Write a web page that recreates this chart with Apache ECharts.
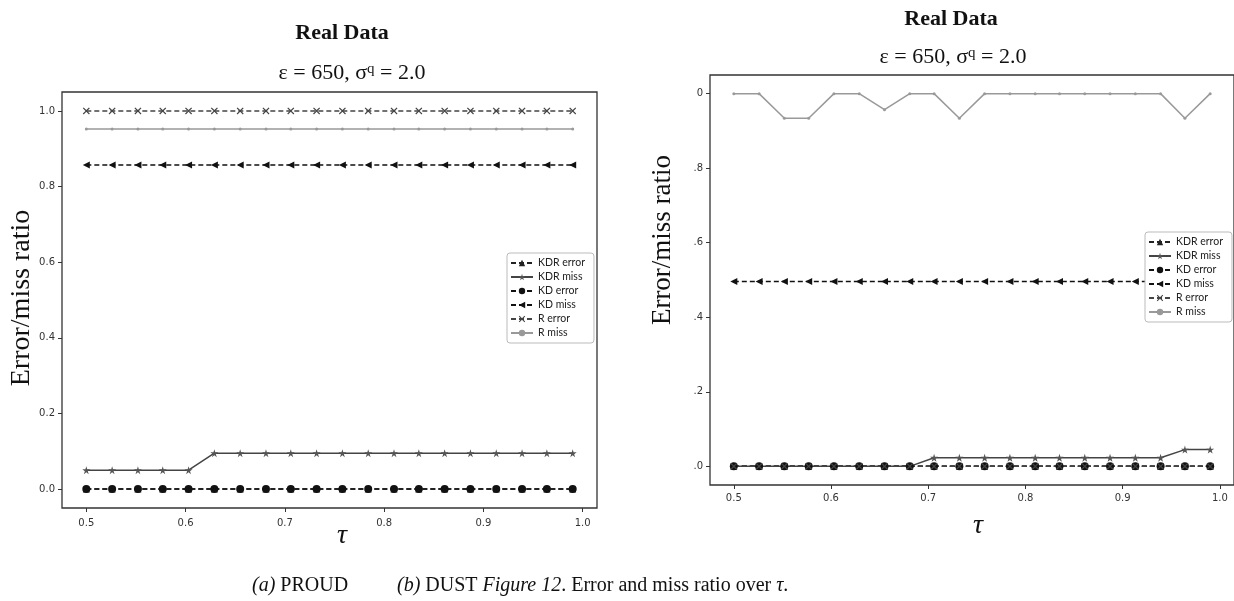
<!DOCTYPE html>
<html><head><meta charset="utf-8">
<script src="https://cdn.jsdelivr.net/npm/echarts@6/dist/echarts.min.js"></script>
<style>html,body{margin:0;padding:0;background:#fff}#c{width:1234px;height:601px}</style>
</head><body><div id="c"></div>
<script>
// ---- data ----
const tau = [0.500,0.526,0.552,0.577,0.603,0.629,0.655,0.681,0.706,0.732,0.758,0.784,0.810,0.835,0.861,0.887,0.913,0.939,0.964,0.990];
const seriesNames = ['KDR error','KDR miss','KD error','KD miss','R error','R miss'];
const xTicks = [0.5,0.6,0.7,0.8,0.9,1.0];
const yTicks = [0,0.2,0.4,0.6,0.8,1.0];
const yTickLabelsA = ['0.0','0.2','0.4','0.6','0.8','1.0'];
const yTickLabelsB = ['.0','.2','.4','.6','.8','0'];
// (a) PROUD
const kdrErrorA = [0,0,0,0,0,0,0,0,0,0,0,0,0,0,0,0,0,0,0,0];
const kdrMissA  = [0.05,0.05,0.05,0.05,0.05,0.095,0.095,0.095,0.095,0.095,0.095,0.095,0.095,0.095,0.095,0.095,0.095,0.095,0.095,0.095];
const kdErrorA  = [0,0,0,0,0,0,0,0,0,0,0,0,0,0,0,0,0,0,0,0];
const kdMissA   = [0.857,0.857,0.857,0.857,0.857,0.857,0.857,0.857,0.857,0.857,0.857,0.857,0.857,0.857,0.857,0.857,0.857,0.857,0.857,0.857];
const rErrorA   = [1,1,1,1,1,1,1,1,1,1,1,1,1,1,1,1,1,1,1,1];
const rMissA    = [0.952,0.952,0.952,0.952,0.952,0.952,0.952,0.952,0.952,0.952,0.952,0.952,0.952,0.952,0.952,0.952,0.952,0.952,0.952,0.952];
// (b) DUST
const kdrErrorB = [0,0,0,0,0,0,0,0,0,0,0,0,0,0,0,0,0,0,0,0];
const kdrMissB  = [0,0,0,0,0,0,0,0,0.023,0.023,0.023,0.023,0.023,0.023,0.023,0.023,0.023,0.023,0.045,0.045];
const kdErrorB  = [0,0,0,0,0,0,0,0,0,0,0,0,0,0,0,0,0,0,0,0];
const kdMissB   = [0.496,0.496,0.496,0.496,0.496,0.496,0.496,0.496,0.496,0.496,0.496,0.496,0.496,0.496,0.496,0.496,0.496,0.496,0.496,0.496];
const rErrorB   = [0,0,0,0,0,0,0,0,0,0,0,0,0,0,0,0,0,0,0,0];
const rMissB    = [1,1,0.934,0.934,1,1,0.957,1,1,0.934,1,1,1,1,1,1,1,1,0.934,1];

// ---- styles ----
const STAR = 'path://M50,0 L61,35 L98,35 L68,57 L79,91 L50,70 L21,91 L32,57 L2,35 L39,35 Z';
const XMARK = 'path://M12,0 L50,38 L88,0 L100,12 L62,50 L100,88 L88,100 L50,62 L12,100 L0,88 L38,50 L0,12 Z';
const DASH = [5, 3];
const styles = {
  'KDR error': {color:'#222', type:DASH, symbol:'triangle', size:7, rot:0},
  'KDR miss':  {color:'#444', type:'solid', symbol:STAR, size:8, rot:0, mcolor:'#555'},
  'KD error':  {color:'#111', type:DASH, symbol:'circle', size:8, rot:0},
  'KD miss':   {color:'#111', type:DASH, symbol:'triangle', size:7, rot:90},
  'R error':   {color:'#444', type:DASH, symbol:XMARK, size:7, rot:0},
  'R miss':    {color:'#999', type:'solid', symbol:'circle', size:3, rot:0}
};
function mk(name, vals, idx) {
  const s = styles[name];
  return {
    name, type:'line', xAxisIndex:idx, yAxisIndex:idx,
    data: vals.map((v,i)=>[tau[i], v]),
    symbol:s.symbol, symbolSize:s.size, symbolRotate:s.rot, showAllSymbol:true,
    lineStyle:{color:s.color, width:1.5, type:s.type},
    itemStyle:{color:s.mcolor||s.color, borderWidth:0},
    emphasis:{disabled:true}, animation:false
  };
}
const setA = [kdrErrorA,kdrMissA,kdErrorA,kdMissA,rErrorA,rMissA];
const setB = [kdrErrorB,kdrMissB,kdErrorB,kdMissB,rErrorB,rMissB];
const series = [];
seriesNames.forEach((n,i)=>series.push(mk(n,setA[i],0)));
seriesNames.forEach((n,i)=>series.push(mk(n,setB[i],1)));

function xAx(idx, margin){
  return {type:'value', gridIndex:idx, min:0.4755, max:1.0145,
    splitLine:{show:false}, axisLine:{show:false, onZero:false},
    axisTick:{show:true, length:4, customValues:xTicks, lineStyle:{color:'#333'}},
    axisLabel:{customValues:xTicks, formatter:v=>v.toFixed(1), fontFamily:'DejaVu Sans', fontSize:10, color:'#333', margin:margin}};
}
function yAx(idx, labels){
  return {type:'value', gridIndex:idx, min:-0.05, max:1.05,
    splitLine:{show:false}, axisLine:{show:false, onZero:false},
    axisTick:{show:true, length:4, customValues:yTicks, lineStyle:{color:'#333'}},
    axisLabel:{customValues:yTicks, formatter:v=>labels[yTicks.findIndex(t=>Math.abs(t-v)<1e-6)], fontFamily:'DejaVu Sans', fontSize:10, color:'#333', margin:7}};
}
function legend(left, top){
  return {orient:'vertical', left, top, itemWidth:22, itemHeight:8, itemGap:2,
    padding:[4,9,4,3], borderColor:'#bbb', borderWidth:1, borderRadius:3, backgroundColor:'#fff',
    textStyle:{fontFamily:'Lato', fontSize:10.5, color:'#222', lineHeight:12},
    data:seriesNames, selectedMode:false};
}
const serif = 'Liberation Serif';
function txt(x,y,text,font,extra){
  return Object.assign({type:'text', x, y, style:Object.assign({text, fill:'#111', align:'center', verticalAlign:'middle', font}, extra||{})});
}
const sub = '{n|ε = 650, σ}{s|q}{n| = 2.0}';
const subRich = {n:{fontFamily:serif, fontSize:22, fill:'#111'}, s:{fontFamily:serif, fontSize:15, fill:'#111', verticalAlign:'top', padding:[0,0,8,0]}};
const capRich = {i:{fontFamily:serif,fontStyle:'italic',fontSize:20,fill:'#111'}, n:{fontFamily:serif,fontSize:20,fill:'#111'}};
const graphics = [
  txt(342,33,'Real Data','bold 22px "Liberation Serif"'),
  txt(951,19,'Real Data','bold 22px "Liberation Serif"'),
  {type:'text', x:352, y:73, style:{text:sub, align:'center', verticalAlign:'middle', fill:'#111', rich:subRich}},
  {type:'text', x:953, y:57, style:{text:sub, align:'center', verticalAlign:'middle', fill:'#111', rich:subRich}},
  Object.assign(txt(22,298,'Error/miss ratio','28px "Liberation Serif"'),{rotation:Math.PI/2}),
  Object.assign(txt(663,240,'Error/miss ratio','27px "Liberation Serif"'),{rotation:Math.PI/2}),
  txt(342,536,'τ','italic 28px "Liberation Serif"'),
  txt(978,526,'τ','italic 28px "Liberation Serif"'),
  {type:'text', x:252, y:586, style:{text:'{i|(a)}{n| PROUD}', align:'left', verticalAlign:'middle', rich:capRich}},
  {type:'text', x:397, y:586, style:{text:'{i|(b)}{n| DUST }{i|Figure 12}{n|. Error and miss ratio over }{i|τ}{n|.}', align:'left', verticalAlign:'middle', rich:capRich}}
];

const chart = echarts.init(document.getElementById('c'), null, {renderer:'canvas'});
chart.setOption({
  animation:false,
  backgroundColor:'#fff',
  grid:[
    {left:62, top:92, width:535, height:416, show:true, borderColor:'#333', borderWidth:1.3, backgroundColor:'transparent'},
    {left:710, top:75, width:534, height:410, show:true, borderColor:'#333', borderWidth:1.3, backgroundColor:'transparent'}
  ],
  xAxis:[xAx(0,10), xAx(1,8)],
  yAxis:[yAx(0,yTickLabelsA), yAx(1,yTickLabelsB)],
  legend:[legend(507,253), legend(1145,232)],
  series,
  graphic:graphics
});
</script></body></html>
